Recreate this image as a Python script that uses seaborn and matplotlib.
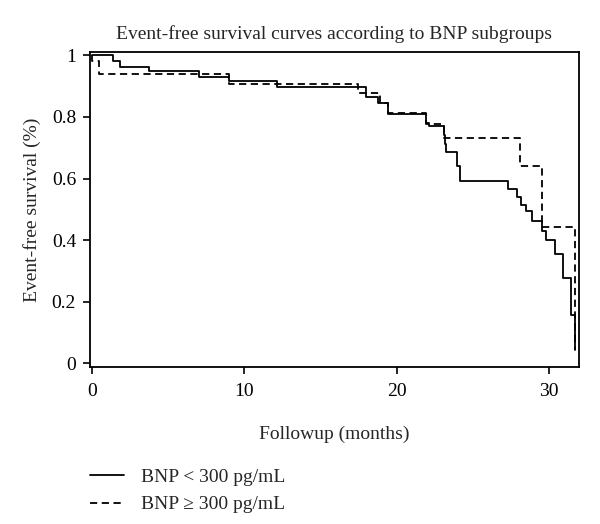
import pandas as pd
import numpy as np
import seaborn as sns
import matplotlib
matplotlib.use('Agg')
import matplotlib.pyplot as plt
from matplotlib.lines import Line2D

# Kaplan-Meier steps (months, survival)
low_time = [0, 1.40, 1.84, 3.77, 7.05, 8.96, 12.14, 18.0, 18.78, 19.42, 21.9, 22.1,
            23.1, 23.18, 23.25, 23.93, 24.13, 27.26, 27.88, 28.14, 28.47, 28.86,
            29.5, 29.8, 30.37, 30.88, 31.43, 31.69]
low_surv = [1.0, 0.980, 0.962, 0.950, 0.930, 0.917, 0.898, 0.864, 0.845, 0.809, 0.780, 0.770,
            0.740, 0.712, 0.687, 0.640, 0.592, 0.566, 0.539, 0.515, 0.493, 0.463,
            0.430, 0.399, 0.355, 0.276, 0.158, 0.042]

high_time = [0, 0.03, 0.45, 8.96, 17.44, 18.9, 19.42, 21.9, 23.1, 28.1, 29.5, 31.69]
high_surv = [1.0, 0.980, 0.940, 0.907, 0.877, 0.845, 0.812, 0.776, 0.731, 0.641, 0.442, 0.042]

labels = ['BNP < 300 pg/mL', 'BNP \u2265 300 pg/mL']

df = pd.concat([
    pd.DataFrame({'time': low_time, 'surv': low_surv, 'group': labels[0]}),
    pd.DataFrame({'time': high_time, 'surv': high_surv, 'group': labels[1]}),
])

sns.set_style('ticks')
plt.rcParams['font.family'] = ['Liberation Serif', 'DejaVu Serif']
fs = 14

fig = plt.figure(figsize=(6, 5.24), dpi=100)
ax = fig.add_axes([0.15, 0.30, 0.815, 0.601])

sns.lineplot(data=df, x='time', y='surv', style='group', color='black',
             dashes={labels[0]: '', labels[1]: (4, 2.5)}, estimator=None, sort=False,
             drawstyle='steps-post', linewidth=1.3, legend=False, ax=ax)

ax.set_xlim(-0.13, 31.95)
ax.set_ylim(-0.011, 1.011)
ax.set_xticks([0, 10, 20, 30])
ax.set_yticks([0, 0.2, 0.4, 0.6, 0.8, 1])
ax.set_yticklabels(['0', '0.2', '0.4', '0.6', '0.8', '1'])
ax.tick_params(direction='out', length=5, width=1.2, labelsize=fs, colors='black', pad=5)
ax.tick_params(axis='x', pad=7)
for s in ax.spines.values():
    s.set_linewidth(1.3)
    s.set_color('black')

ax.set_title('Event-free survival curves according to BNP subgroups', fontsize=fs, pad=9)
ax.set_xlabel('Followup (months)', fontsize=fs, labelpad=18)
ax.set_ylabel('Event-free survival (%)', fontsize=fs, labelpad=8)

handles = [Line2D([], [], color='black', lw=1.3),
           Line2D([], [], color='black', lw=1.3, dashes=(4, 2.5))]
fig.legend(handles, labels, loc='upper left', bbox_to_anchor=(0.15, 0.106),
           frameon=False, fontsize=fs, handlelength=1.75, handletextpad=0.85,
           labelspacing=0.5, borderpad=0, borderaxespad=0)

fig.savefig('out.png', dpi=100)
